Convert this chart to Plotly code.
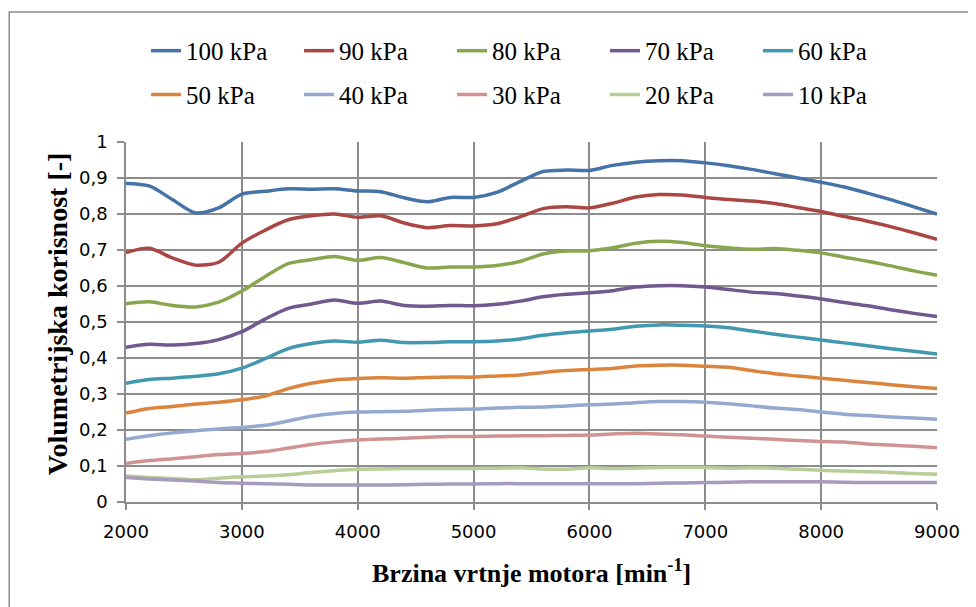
import plotly.graph_objects as go

# ---------------------------------------------------------------------------
# Data (volumetric efficiency vs engine speed)
# ---------------------------------------------------------------------------
rpm = [2000, 2200, 2400, 2600, 2800, 3000, 3200, 3400, 3600, 3800,
       4000, 4200, 4400, 4600, 4800, 5000, 5200, 5400, 5600, 5800,
       6000, 6200, 6400, 6600, 6800, 7000, 7200, 7400, 7600, 7800,
       8000, 8200, 8400, 8600, 8800, 9000]

eta_100 = [.885, .878, .840, .803, .817, .855, .863, .870, .869, .870,
           .864, .862, .845, .834, .846, .846, .860, .890, .918, .922,
           .921, .935, .944, .948, .948, .942, .934, .924, .912, .900,
           .888, .875, .858, .840, .820, .800]
eta_90 = [.693, .705, .678, .658, .666, .719, .755, .784, .795, .800,
          .791, .795, .775, .762, .768, .767, .773, .792, .815, .820,
          .817, .830, .847, .854, .853, .846, .840, .836, .829, .818,
          .807, .793, .780, .765, .748, .730]
eta_80 = [.551, .556, .546, .542, .555, .586, .626, .662, .673, .682,
          .671, .679, .665, .650, .653, .653, .657, .668, .689, .697,
          .698, .706, .719, .724, .721, .712, .706, .702, .704, .699,
          .692, .680, .669, .656, .642, .630]
eta_70 = [.430, .438, .436, .440, .451, .473, .508, .538, .550, .561,
          .552, .558, .546, .544, .546, .545, .549, .558, .570, .577,
          .581, .587, .597, .601, .601, .597, .590, .583, .579, .572,
          .564, .554, .545, .534, .524, .515]
eta_60 = [.330, .340, .344, .349, .356, .372, .398, .426, .440, .447,
          .444, .449, .443, .443, .445, .445, .447, .453, .463, .470,
          .475, .480, .488, .492, .491, .489, .484, .475, .466, .458,
          .450, .442, .434, .426, .419, .411]
eta_50 = [.247, .260, .265, .272, .277, .284, .294, .315, .330, .339,
          .343, .345, .344, .346, .347, .347, .350, .353, .360, .365,
          .368, .371, .378, .380, .380, .377, .374, .365, .356, .350,
          .344, .338, .332, .326, .320, .315]
eta_40 = [.174, .184, .192, .198, .203, .207, .213, .225, .238, .246,
          .250, .251, .252, .255, .257, .258, .261, .263, .264, .267,
          .270, .272, .276, .279, .279, .277, .273, .267, .261, .257,
          .250, .244, .240, .236, .233, .230]
eta_30 = [.107, .115, .120, .126, .132, .135, .140, .150, .160, .167,
          .172, .175, .177, .180, .182, .182, .183, .184, .184, .185,
          .186, .189, .191, .189, .187, .183, .180, .177, .174, .171,
          .168, .167, .161, .158, .155, .151]
eta_20 = [.072, .068, .065, .062, .066, .070, .072, .076, .082, .087,
          .091, .092, .093, .093, .093, .093, .094, .095, .092, .091,
          .095, .093, .094, .096, .096, .096, .094, .095, .094, .091,
          .088, .086, .084, .082, .079, .077]
eta_10 = [.068, .064, .061, .058, .054, .052, .051, .049, .047, .047,
          .047, .047, .048, .049, .050, .050, .051, .051, .051, .051,
          .051, .051, .051, .052, .053, .054, .055, .056, .056, .056,
          .056, .055, .054, .054, .054, .054]

labels = ["100 kPa", "90 kPa", "80 kPa", "70 kPa", "60 kPa",
          "50 kPa", "40 kPa", "30 kPa", "20 kPa", "10 kPa"]
series = [eta_100, eta_90, eta_80, eta_70, eta_60,
          eta_50, eta_40, eta_30, eta_20, eta_10]
colors = ["#4572A7", "#AA4643", "#89A54E", "#71588F", "#4198AF",
          "#DB843D", "#93A9CF", "#D19392", "#B9CD96", "#A99BBD"]

y_ticks = [0, .1, .2, .3, .4, .5, .6, .7, .8, .9, 1]
y_ticktext = ["0", "0,1", "0,2", "0,3", "0,4", "0,5", "0,6", "0,7", "0,8", "0,9", "1"]

GRID = "#8c8c8c"
SERIF = "Liberation Serif"

fig = go.Figure()
for i, (name, vals, col) in enumerate(zip(labels, series, colors)):
    fig.add_trace(go.Scatter(
        x=rpm, y=vals, name=name, mode="lines",
        line=dict(color=col, width=3.5, shape="spline", smoothing=0.8),
        legend="legend" if i < 5 else "legend2",
    ))

legend_common = dict(
    orientation="h", xanchor="left", yanchor="middle",
    entrywidth=108, entrywidthmode="pixels",
    font=dict(family=SERIF, size=25, color="#000"),
    bgcolor="rgba(0,0,0,0)", tracegroupgap=0,
)

# the page body adds an 8 px offset, so the figure is 8 px smaller each way
fig.update_layout(
    width=968, height=599,
    margin=dict(l=118, r=39, t=134, b=105, autoexpand=False),
    paper_bgcolor="white", plot_bgcolor="white",
    showlegend=True,
    legend=dict(x=0.0247, y=1.253, **legend_common),
    legend2=dict(x=0.0247, y=1.131, **legend_common),
    xaxis=dict(
        range=[2000, 9000], dtick=1000, tick0=2000,
        showgrid=True, gridcolor=GRID, gridwidth=1.5,
        showline=True, linecolor=GRID, linewidth=1.5,
        ticks="outside", ticklen=6, tickcolor=GRID, tickwidth=1.5,
        tickfont=dict(family="DejaVu Sans", size=18, color="#000"),
        ticklabelstandoff=7, zeroline=False,
    ),
    yaxis=dict(
        range=[0, 1], tickvals=y_ticks, ticktext=y_ticktext,
        showgrid=True, gridcolor=GRID, gridwidth=1.5,
        showline=True, linecolor=GRID, linewidth=1.5,
        ticks="outside", ticklen=7, tickcolor=GRID, tickwidth=1.5,
        tickfont=dict(family="DejaVu Sans", size=18, color="#000"),
        ticklabelstandoff=6, zeroline=False,
    ),
    annotations=[
        dict(text="<b>Brzina vrtnje motora [min<sup>-1</sup>]</b>",
             xref="paper", yref="paper", x=0.5, y=-0.194,
             xanchor="center", yanchor="middle", showarrow=False,
             font=dict(family=SERIF, size=26, color="#000")),
        dict(text="<b>Volumetrijska korisnost [-]</b>",
             xref="paper", yref="paper", x=-0.085, y=0.522, textangle=-90,
             xanchor="center", yanchor="middle", showarrow=False,
             font=dict(family=SERIF, size=28, color="#000")),
    ],
    shapes=[
        # outer chart frame, cut off by the image on the right and bottom
        dict(type="rect", xref="paper", yref="paper",
             x0=-0.1440, x1=1.08, y0=-0.40, y1=1.361,
             line=dict(color=GRID, width=1.5), layer="below"),
    ],
)

fig.write_html("out.html")
